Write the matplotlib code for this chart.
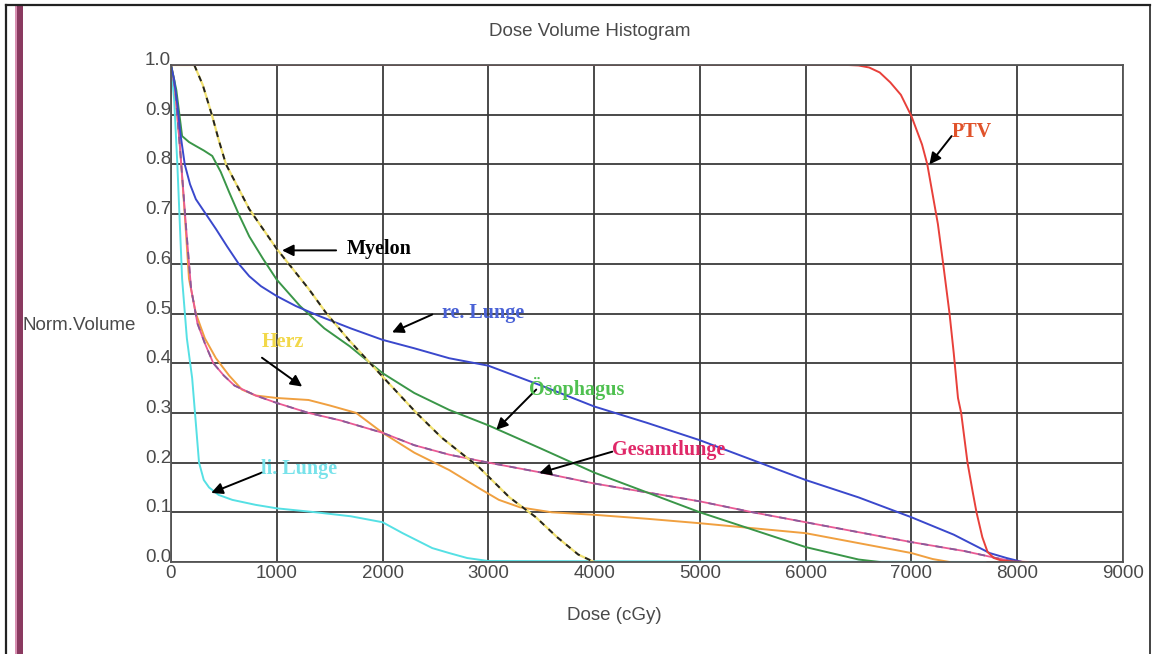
import numpy as np
import matplotlib
matplotlib.use('Agg')
import matplotlib.pyplot as plt
from matplotlib.patches import Rectangle
from matplotlib.lines import Line2D

# ---- data (dose in cGy, normalised volume) ----
ptv_dose = [0, 6400, 6500, 6600, 6700, 6800, 6900, 7000, 7100, 7150, 7200, 7250, 7300, 7360,
            7400, 7440, 7470, 7530, 7580, 7615, 7670, 7720, 7780, 7850, 7950, 8100]
ptv_vol = [1, 1, 0.999, 0.995, 0.985, 0.965, 0.94, 0.897, 0.84, 0.80, 0.74, 0.68, 0.60, 0.50,
           0.42, 0.33, 0.30, 0.20, 0.14, 0.10, 0.05, 0.02, 0.008, 0.003, 0.001, 0]

rel_dose = [0, 30, 60, 90, 130, 180, 235, 330, 425, 530, 640, 740, 850, 1000, 1180, 1400, 1700,
            2000, 2300, 2630, 3000, 3500, 4000, 4500, 5000, 5500, 6000, 6500, 7000, 7400, 7740,
            7900, 8050]
rel_vol = [1, 0.97, 0.92, 0.86, 0.80, 0.76, 0.73, 0.70, 0.67, 0.635, 0.60, 0.575, 0.555, 0.535,
           0.515, 0.495, 0.47, 0.447, 0.43, 0.41, 0.395, 0.355, 0.313, 0.28, 0.245, 0.205, 0.165,
           0.13, 0.09, 0.055, 0.018, 0.008, 0]

herz_dose = [0, 30, 80, 130, 170, 235, 320, 425, 550, 670, 800, 1000, 1300, 1500, 1750, 2000,
             2300, 2630, 2900, 3100, 3300, 3600, 4000, 4500, 5000, 5500, 6000, 6500, 7000, 7200, 7360]
herz_vol = [1, 0.97, 0.85, 0.70, 0.57, 0.50, 0.45, 0.41, 0.375, 0.347, 0.335, 0.33, 0.326, 0.315,
            0.30, 0.26, 0.22, 0.185, 0.15, 0.125, 0.11, 0.10, 0.095, 0.087, 0.078, 0.068, 0.058,
            0.038, 0.018, 0.006, 0]

ges_dose = [0, 40, 90, 140, 190, 250, 320, 400, 500, 600, 800, 1000, 1300, 1600, 2000, 2300,
            2630, 3000, 3500, 4000, 4500, 5000, 5500, 6000, 6500, 7000, 7500, 7800, 8000]
ges_vol = [1, 0.95, 0.82, 0.68, 0.55, 0.48, 0.44, 0.40, 0.375, 0.355, 0.335, 0.32, 0.30, 0.285,
           0.26, 0.235, 0.216, 0.20, 0.18, 0.158, 0.14, 0.122, 0.10, 0.08, 0.06, 0.04, 0.022,
           0.008, 0]

oes_dose = [0, 50, 105, 170, 235, 310, 390, 470, 550, 640, 740, 870, 1000, 1220, 1450, 1690,
            2000, 2300, 2630, 3000, 3500, 4000, 4500, 5000, 5500, 6000, 6300, 6500, 6700]
oes_vol = [1, 0.95, 0.857, 0.845, 0.837, 0.828, 0.817, 0.785, 0.744, 0.70, 0.655, 0.61, 0.568,
           0.515, 0.47, 0.434, 0.38, 0.34, 0.306, 0.275, 0.228, 0.18, 0.14, 0.10, 0.065, 0.03,
           0.015, 0.005, 0]

mye_dose = [0, 220, 300, 390, 450, 520, 630, 740, 870, 1000, 1150, 1300, 1470, 1680, 2000, 2320,
            2560, 2915, 3200, 3450, 3650, 3850, 4000]
mye_vol = [1, 1, 0.96, 0.897, 0.85, 0.80, 0.755, 0.71, 0.67, 0.63, 0.59, 0.55, 0.50, 0.447,
           0.373, 0.30, 0.25, 0.19, 0.13, 0.09, 0.05, 0.015, 0]

lil_dose = [0, 30, 60, 105, 150, 200, 265, 310, 360, 450, 580, 800, 1000, 1370, 1700, 2000,
            2190, 2470, 2630, 2800, 3000, 7700]
lil_vol = [1, 0.93, 0.80, 0.57, 0.45, 0.37, 0.20, 0.165, 0.15, 0.135, 0.125, 0.115, 0.108, 0.10,
           0.092, 0.08, 0.058, 0.028, 0.018, 0.008, 0.002, 0]

x_ticks = np.arange(0, 9001, 1000)
y_ticks = np.round(np.arange(0, 1.01, 0.1), 1)

# label texts, colours, text position and arrow (tail -> head)
labels = ['Myelon', 're. Lunge', 'Herz', 'Ösophagus', 'Gesamtlunge', 'li. Lunge', 'PTV']
label_colors = ['black', '#4a62d6', '#f2d84a', '#4fc050', '#e02868', '#78e2ea', '#e0522a']
label_pos = [(1665, 0.629), (2564, 0.502), (861, 0.442), (3387, 0.350), (4172, 0.226),
             (851, 0.187), (7380, 0.865)]
arrow_tail = [(1561, 0.627), (2470, 0.498), (860, 0.411), (3453, 0.347), (4172, 0.222),
              (860, 0.180), (7380, 0.857)]
arrow_head = [(1050, 0.627), (2090, 0.462), (1240, 0.353), (3075, 0.266), (3482, 0.179),
              (380, 0.139), (7170, 0.800)]

fig = plt.figure(figsize=(11.54, 6.54), dpi=100)
ax = fig.add_axes([171 / 1154, 92 / 654, 952 / 1154, 497 / 654])

sans = 'Liberation Sans'
grey = '#4a4a4a'

# curves
ax.plot(lil_dose, lil_vol, color='#55e0e4', lw=1.4)
ax.plot(herz_dose, herz_vol, color='#f0a040', lw=1.4)
ax.plot(ges_dose, ges_vol, color='#ea5a94', lw=1.3)
ax.plot(ges_dose, ges_vol, color='#8a5a9a', lw=1.3, ls=(0, (4, 4)))
ax.plot(oes_dose, oes_vol, color='#3a9648', lw=1.4)
ax.plot(rel_dose, rel_vol, color='#3a48cc', lw=1.4)
ax.plot(mye_dose, mye_vol, color='#f0e070', lw=1.6)
ax.plot(mye_dose, mye_vol, color='#222222', lw=1.4, ls=(0, (3, 3)))
ax.plot(ptv_dose, ptv_vol, color='#e8403a', lw=1.4)

for txt, c, p, t, h in zip(labels, label_colors, label_pos, arrow_tail, arrow_head):
    ax.annotate('', xy=h, xytext=t,
                arrowprops=dict(arrowstyle='-|>', color='black', lw=1.4,
                                mutation_scale=17, shrinkA=0, shrinkB=0))
    ax.text(p[0], p[1], txt, color=c, fontsize=14.5, fontweight='bold',
            family='Liberation Serif', ha='left', va='center')

ax.set_xlim(0, 9000)
ax.set_ylim(0, 1)
ax.set_xticks(x_ticks)
ax.set_xticklabels([str(v) for v in x_ticks], family=sans, fontsize=13.5, color=grey)
ax.set_yticks(y_ticks)
ax.set_yticklabels(['%.1f' % v for v in y_ticks], family=sans, fontsize=13.5, color=grey,
                   va='baseline')
ax.tick_params(axis='both', length=0)
ax.tick_params(axis='y', pad=0)
ax.tick_params(axis='x', pad=2)
ax.grid(True, color='#3a3a3a', lw=1.3)
ax.set_axisbelow(True)
for s in ax.spines.values():
    s.set_color('#555555')
    s.set_linewidth(1.3)

fig.text(590 / 1154, 1 - 31 / 654, 'Dose Volume Histogram', family=sans, fontsize=13.5,
         color=grey, ha='center', va='center')
fig.text(614 / 1154, 1 - 616 / 654, 'Dose (cGy)', family=sans, fontsize=13.5,
         color=grey, ha='center', va='center')
fig.text(23 / 1154, 1 - 325 / 654, 'Norm.Volume', family=sans, fontsize=13.5,
         color=grey, ha='left', va='center')

### outer frame and purple bar ###
fig.add_artist(Line2D([6 / 1154, 1150 / 1154], [1 - 5 / 654, 1 - 5 / 654],
                      color='#222222', lw=1.6, transform=fig.transFigure))
fig.add_artist(Line2D([6 / 1154, 6 / 1154], [0, 1 - 5 / 654],
                      color='#222222', lw=1.6, transform=fig.transFigure))
fig.add_artist(Line2D([1150 / 1154, 1150 / 1154], [0, 1 - 5 / 654],
                      color='#222222', lw=1.2, transform=fig.transFigure))
fig.add_artist(Rectangle((15 / 1154, 0), 3 / 1154, 1 - 5 / 654, color='#d890b2',
                         transform=fig.transFigure, lw=0))
fig.add_artist(Rectangle((17 / 1154, 0), 6 / 1154, 1 - 5 / 654, color='#8a3a60',
                         transform=fig.transFigure, lw=0))

fig.savefig('out.png', dpi=100)
